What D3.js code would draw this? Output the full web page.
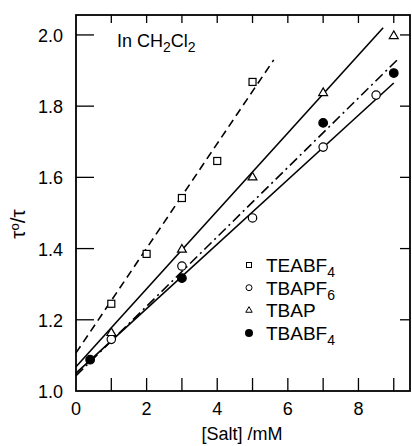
<!DOCTYPE html>
<html>
<head>
<meta charset="utf-8">
<script src="https://cdn.jsdelivr.net/npm/d3@7"></script>
<style>
  html, body { margin: 0; padding: 0; background: #fff; }
  text { font-family: "Liberation Sans", Arial, sans-serif; fill: #000; }
</style>
</head>
<body>
<div id="chart"></div>
<script>
// measured points, tau0/tau vs [salt] (mM)
const teabf4 = [[1, 1.245], [2, 1.385], [3, 1.542], [4, 1.646], [5, 1.868]];
const tbapf6 = [[1, 1.145], [3, 1.351], [5, 1.486], [7, 1.685], [8.5, 1.831]];
const tbap = [[1, 1.163], [3, 1.397], [5, 1.600], [7, 1.837], [9, 1.997]];
const tbabf4 = [[0.4, 1.088], [3, 1.317], [7, 1.753], [9, 1.893]];

// fitted lines (end points)
const fitTeabf4 = [[0, 1.107], [5.6, 1.93]];
const fitTbap = [[0, 1.068], [8.7, 2.02]];
const fitTbapf6 = [[0, 1.05], [9.0, 1.865]];
const fitTbabf4 = [[0, 1.043], [9.15, 1.935]];

const xTicks = [0, 2, 4, 6, 8];
const xMinor = [1, 2, 3, 4, 5, 6, 7, 8, 9];
const yTicks = [1.0, 1.2, 1.4, 1.6, 1.8, 2.0];
const legendNames = [['TEABF', '4'], ['TBAPF', '6'], ['TBAP', ''], ['TBABF', '4']];

const W = 412, H = 446;
const m = {l: 76, r: 2, t: 15, b: 55};

const svg = d3.select('#chart').append('svg').attr('width', W).attr('height', H);

const x = d3.scaleLinear().domain([0, 9.46]).range([m.l, W - m.r]);
const y = d3.scaleLinear().domain([1.0, 2.056]).range([H - m.b, m.t]);

// frame
svg.append('rect').attr('x', x(0)).attr('y', y(2.056))
  .attr('width', x(9.46) - x(0)).attr('height', y(1.0) - y(2.056))
  .attr('fill', 'none').attr('stroke', '#000').attr('stroke-width', 1.8);

// ticks, all inward
let tk = svg.append('g').attr('stroke', '#000').attr('stroke-width', 1.3);
xMinor.forEach(v => {
  tk.append('line').attr('x1', x(v)).attr('x2', x(v)).attr('y1', y(1.0)).attr('y2', y(1.0) - 13);
  tk.append('line').attr('x1', x(v)).attr('x2', x(v)).attr('y1', y(2.056)).attr('y2', y(2.056) + 8);
});
yTicks.slice(1).forEach(v => {
  tk.append('line').attr('x1', x(0)).attr('x2', x(0) + 18).attr('y1', y(v)).attr('y2', y(v));
  tk.append('line').attr('x1', x(9.46)).attr('x2', x(9.46) - 10).attr('y1', y(v)).attr('y2', y(v));
});

// tick labels
svg.append('g').selectAll('text').data(xTicks).enter().append('text')
  .attr('x', d => x(d)).attr('y', y(1.0) + 24)
  .attr('text-anchor', 'middle').attr('font-size', 18).text(d => d);
svg.append('g').selectAll('text').data(yTicks).enter().append('text')
  .attr('x', 63).attr('y', d => y(d) + 7)
  .attr('text-anchor', 'end').attr('font-size', 18).text(d => d.toFixed(1));

// axis titles
svg.append('text').attr('x', 242).attr('y', 440).attr('text-anchor', 'middle')
  .attr('font-size', 18).text('[Salt] /mM');
let yl = svg.append('text').attr('transform', 'translate(25,224) rotate(-90)')
  .attr('text-anchor', 'middle').attr('font-size', 21);
yl.append('tspan').text('τ');
yl.append('tspan').attr('dy', -6).attr('font-size', 13).text('o');
yl.append('tspan').attr('dy', 6).text('/τ');

// "In CH2Cl2"
let lab = svg.append('text').attr('x', 117).attr('y', 47).attr('font-size', 18);
lab.append('tspan').text('In CH');
lab.append('tspan').attr('dy', 5).attr('font-size', 14).text('2');
lab.append('tspan').attr('dy', -5).text('Cl');
lab.append('tspan').attr('dy', 5).attr('font-size', 14).text('2');

// fit lines
const line = d3.line().x(d => x(d[0])).y(d => y(d[1]));
let lines = svg.append('g').attr('fill', 'none').attr('stroke', '#000').attr('stroke-width', 1.6);
lines.append('path').attr('d', line(fitTeabf4)).attr('stroke-dasharray', '8,5');
lines.append('path').attr('d', line(fitTbap));
lines.append('path').attr('d', line(fitTbapf6));
lines.append('path').attr('d', line(fitTbabf4)).attr('stroke-dasharray', '10,4,2,4');

// markers
let pts = svg.append('g').attr('stroke', '#000').attr('stroke-width', 1.2);
pts.selectAll('rect.sq').data(teabf4).enter().append('rect').attr('class', 'sq')
  .attr('x', d => x(d[0]) - 3.5).attr('y', d => y(d[1]) - 3.5)
  .attr('width', 7).attr('height', 7).attr('fill', '#fff');
pts.selectAll('circle.oc').data(tbapf6).enter().append('circle').attr('class', 'oc')
  .attr('cx', d => x(d[0])).attr('cy', d => y(d[1])).attr('r', 4.2).attr('fill', '#fff');
const tri = d3.symbol().type(d3.symbolTriangle).size(34);
pts.selectAll('path.tr').data(tbap).enter().append('path').attr('class', 'tr')
  .attr('d', tri).attr('transform', d => `translate(${x(d[0])},${y(d[1])})`).attr('fill', '#fff');
pts.selectAll('circle.fc').data(tbabf4).enter().append('circle').attr('class', 'fc')
  .attr('cx', d => x(d[0])).attr('cy', d => y(d[1])).attr('r', 4.3).attr('fill', '#000');

// legend
let lg = svg.append('g').attr('transform', 'translate(249,265)');
legendNames.forEach((n, i) => {
  let g = lg.append('g').attr('transform', `translate(0,${i * 22.7})`);
  if (i == 0) g.append('rect').attr('x', -2.5).attr('y', -2.5).attr('width', 5).attr('height', 5)
    .attr('fill', '#fff').attr('stroke', '#000');
  if (i == 1) g.append('circle').attr('r', 3).attr('fill', '#fff').attr('stroke', '#000');
  if (i == 2) g.append('path').attr('d', d3.symbol().type(d3.symbolTriangle).size(18))
    .attr('fill', '#fff').attr('stroke', '#000');
  if (i == 3) g.append('circle').attr('r', 4).attr('fill', '#000');
  let t = g.append('text').attr('x', 17).attr('y', 7).attr('font-size', 19);
  t.append('tspan').text(n[0]);
  if (n[1]) t.append('tspan').attr('dy', 5).attr('font-size', 14).text(n[1]);
});
</script>
</body>
</html>
